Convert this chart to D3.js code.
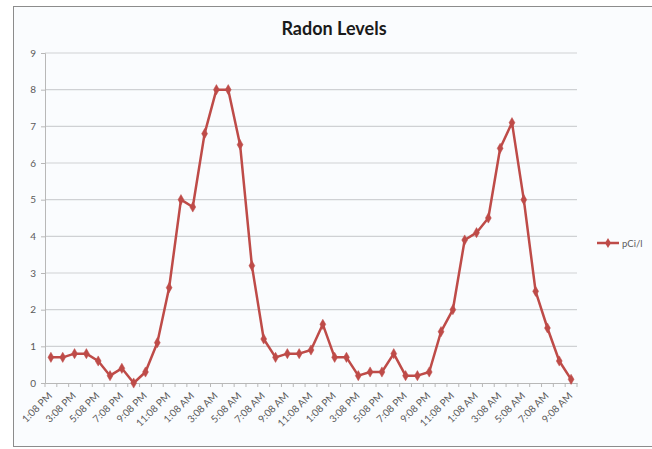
<!DOCTYPE html>
<html>
<head>
<meta charset="utf-8">
<script src="https://cdn.jsdelivr.net/npm/d3@7"></script>
<style>
  html, body { margin: 0; padding: 0; background: #ffffff; }
  svg { display: block; }
</style>
</head>
<body>
<svg id="chart" width="652" height="449"></svg>
<script>
// ---- data ----
const hourLabels = ["1:08 PM","2:08 PM","3:08 PM","4:08 PM","5:08 PM","6:08 PM","7:08 PM","8:08 PM","9:08 PM","10:08 PM","11:08 PM","12:08 AM",
  "1:08 AM","2:08 AM","3:08 AM","4:08 AM","5:08 AM","6:08 AM","7:08 AM","8:08 AM","9:08 AM","10:08 AM","11:08 AM","12:08 PM",
  "1:08 PM","2:08 PM","3:08 PM","4:08 PM","5:08 PM","6:08 PM","7:08 PM","8:08 PM","9:08 PM","10:08 PM","11:08 PM","12:08 AM",
  "1:08 AM","2:08 AM","3:08 AM","4:08 AM","5:08 AM","6:08 AM","7:08 AM","8:08 AM","9:08 AM"];
const radon = [0.7,0.7,0.8,0.8,0.6,0.2,0.4,0.0,0.3,1.1,2.6,5.0,4.8,6.8,8.0,8.0,6.5,3.2,1.2,0.7,0.8,0.8,0.9,
  1.6,0.7,0.7,0.2,0.3,0.3,0.8,0.2,0.2,0.3,1.4,2.0,3.9,4.1,4.5,6.4,7.1,5.0,2.5,1.5,0.6,0.1];
const yTicks = [0,1,2,3,4,5,6,7,8,9];
const seriesName = "pCi/l";
const chartTitle = "Radon Levels";

// ---- layout ----
const svg = d3.select("#chart");
const color = "#BE4B48";
const font = "Lato, 'Open Sans', sans-serif";
const plot = {left: 45, right: 577, top: 53, bottom: 383};
const idx = d3.range(radon.length);

svg.append("rect").attr("x", 13.5).attr("y", 6.5).attr("width", 660).attr("height", 440)
  .attr("fill", "#fafcfe").attr("stroke", "#8c8c8c").attr("stroke-width", 1);

const x = d3.scalePoint().domain(idx).range([plot.left, plot.right]).padding(0.5);
const step = x.step();
const y = d3.scaleLinear().domain([0, 9]).range([plot.bottom, plot.top]);

// gridlines
svg.append("g").selectAll("line").data(yTicks.filter(d => d > 0)).join("line")
  .attr("x1", plot.left).attr("x2", plot.right)
  .attr("y1", d => y(d)).attr("y2", d => y(d))
  .attr("stroke", "#cfd1d4").attr("stroke-width", 1.2);

// y axis
const yAxis = d3.axisLeft(y).tickValues(yTicks).tickSize(4).tickPadding(5);
const gy = svg.append("g").attr("transform", `translate(${plot.left},0)`).call(yAxis);
gy.select(".domain").attr("stroke", "#b8b8b8");
gy.selectAll(".tick line").attr("stroke", "#b8b8b8");
gy.selectAll("text").attr("fill", "#5a5a5a").style("font-family", font).style("font-size", "10px");

// x axis
const xAxis = d3.axisBottom(x).tickValues(idx.filter(i => i % 2 === 0)).tickFormat(i => hourLabels[i]).tickSize(0);
const gx = svg.append("g").attr("transform", `translate(0,${plot.bottom})`).call(xAxis);
gx.select(".domain").attr("stroke", "#b8b8b8");
gx.selectAll("text")
  .attr("fill", "#5a5a5a")
  .style("font-family", font).style("font-size", "10px")
  .attr("text-anchor", "end")
  .attr("x", 0).attr("y", 0).attr("dx", 0).attr("dy", "0.35em")
  .attr("transform", "translate(-1,11) rotate(-45)");
// category boundary ticks
svg.append("g").selectAll("line").data(d3.range(radon.length + 1)).join("line")
  .attr("x1", i => plot.left + i * step).attr("x2", i => plot.left + i * step)
  .attr("y1", plot.bottom).attr("y2", plot.bottom + 4)
  .attr("stroke", "#b8b8b8");

// line
const line = d3.line().x((d, i) => x(i)).y(d => y(d));
svg.append("path").datum(radon).attr("d", line)
  .attr("fill", "none").attr("stroke", color).attr("stroke-width", 2.5).attr("stroke-linejoin", "round");

const diamond = d3.symbol().type(d3.symbolDiamond).size(30);
svg.append("g").selectAll("path").data(radon).join("path")
  .attr("d", diamond)
  .attr("transform", (d, i) => `translate(${x(i)},${y(d)})`)
  .attr("fill", color).attr("stroke", color).attr("stroke-width", 0.5);

// title
svg.append("text").attr("x", 334).attr("y", 35).attr("text-anchor", "middle")
  .style("font-family", font).style("font-weight", "bold").style("font-size", "18px")
  .attr("fill", "#1a1a1a").text(chartTitle);

// legend
const lg = svg.append("g").attr("transform", "translate(597,243)");
lg.append("line").attr("x1", 0).attr("x2", 22).attr("y1", 0).attr("y2", 0).attr("stroke", color).attr("stroke-width", 2.5);
lg.append("path").attr("d", diamond).attr("transform", "translate(11,0)").attr("fill", color);
lg.append("text").attr("x", 25).attr("y", 3.5)
  .style("font-family", font).style("font-size", "9.5px").attr("fill", "#5a5a5a").text(seriesName);
</script>
</body>
</html>
